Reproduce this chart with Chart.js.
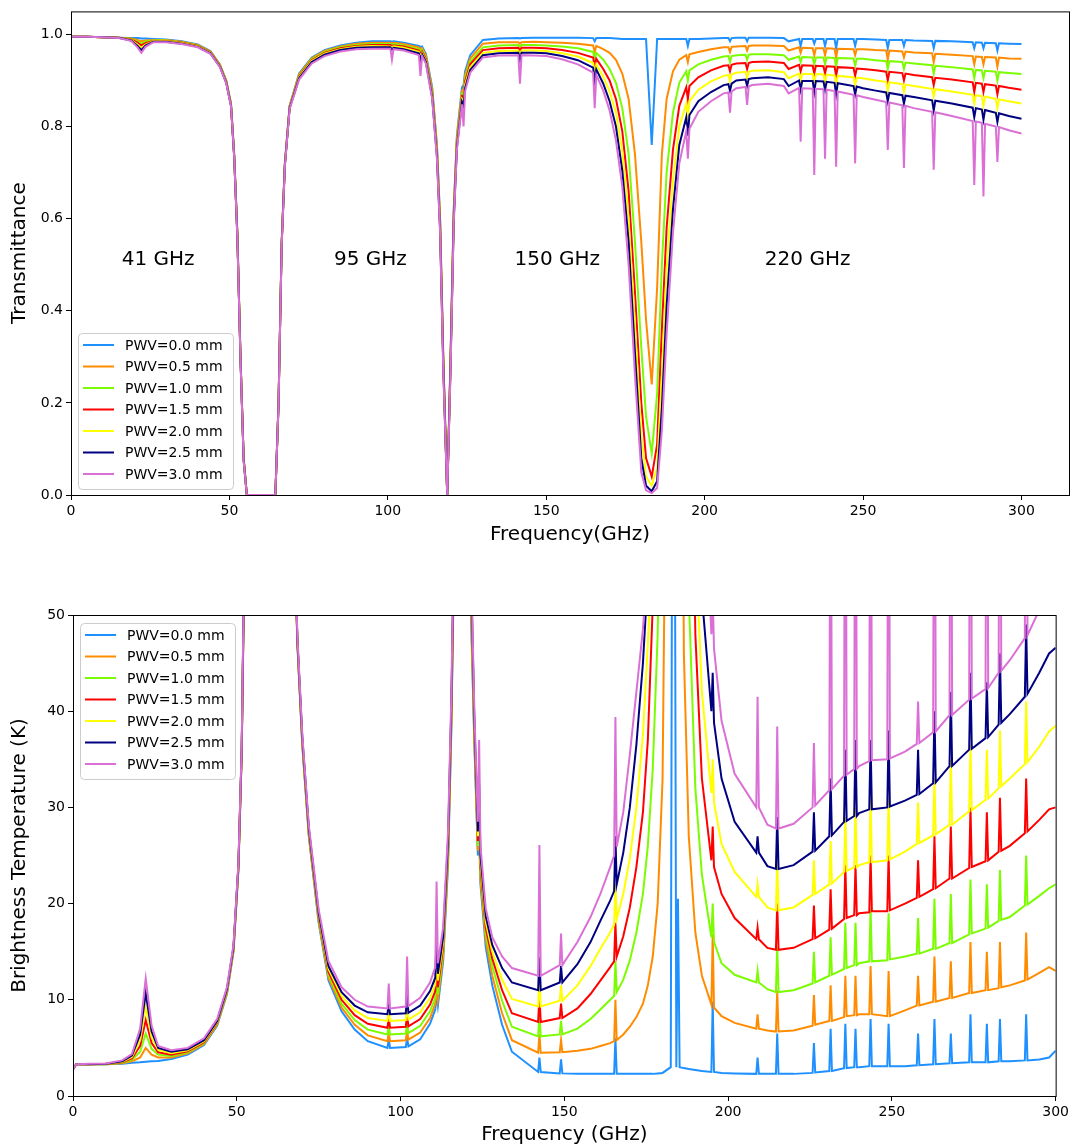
<!DOCTYPE html>
<html>
<head>
<meta charset="utf-8">
<script src="https://cdn.jsdelivr.net/npm/chart.js@4.4.0/dist/chart.umd.min.js"></script>
<style>
  body { margin: 0; background: #fff; }
  canvas { position: absolute; left: 0; }
  #topChart { top: 0; }
  #bottomChart { top: 600px; }
</style>
</head>
<body>
<canvas id="topChart" width="1072" height="550"></canvas>
<canvas id="bottomChart" width="1072" height="548"></canvas>
<script>
// series labels
const pwvLabels = ['PWV=0.0 mm', 'PWV=0.5 mm', 'PWV=1.0 mm', 'PWV=1.5 mm', 'PWV=2.0 mm', 'PWV=2.5 mm', 'PWV=3.0 mm'];
const bandLabels = ['41 GHz', '95 GHz', '150 GHz', '220 GHz'];

// tick labels
const topXTicks = [0, 50, 100, 150, 200, 250, 300];
const topYTicks = [0, 0.2, 0.4, 0.6, 0.8, 1.0];
const botXTicks = [0, 50, 100, 150, 200, 250, 300];
const botYTicks = [0, 10, 20, 30, 40, 50];

// ---- transmittance (top) ----
const freqTop = [0,5,10,15,19,21,22.2,23.5,26,30,
  35,40,44,47,49,50.5,51.5,52.5,53.5,54.5,
  55.5,64.5,65.5,66.5,67.5,69,72,76,80,85,
  90,95,100.8,101.3,101.8,105,109.8,110.3,110.8,112,
  114,115.5,116.5,117.5,118.75,119.8,120.8,121.8,123.4,123.9,
  124.4,126,130,135,141.2,141.7,142.2,146,150,155,
  160,164.8,165.3,165.8,168,170,172,174,176,178,
  180,181.5,183.3,185,186.5,188,190,192,194.2,194.7,
  195.2,198,202,206,207.5,208,208.5,210,212.9,213.4,
  213.9,215,220,225,226.5,229.8,230.3,230.8,234.1,234.6,
  235.1,237.5,238,238.5,241,241.5,242,247,247.5,248,
  250,254,257.3,257.8,258.3,262.4,262.9,263.4,266,271.8,
  272.3,272.8,278,284.6,285.1,285.6,287.5,288,288.5,291.9,
  292.4,292.9,296,300];

const trans00 = [.995,.995,.994,.993,.992,.992,.991,.991,.990,.989,
  .985,.978,.964,.935,.900,.850,.740,.570,.300,.080,
  0,0,.200,.550,.720,.845,.915,.950,.966,.976,
  .982,.985,.985,.984,.985,.982,.975,.973,.974,.958,
  .885,.760,.600,.300,0,.300,.620,.780,.885,.890,
  .920,.955,.988,.991,.992,.991,.992,.993,.993,.993,
  .993,.992,.985,.992,.992,.992,.991,.990,.990,.990,
  .990,.990,.760,.990,.990,.990,.990,.990,.990,.975,
  .990,.990,.991,.992,.992,.985,.992,.993,.993,.985,
  .993,.993,.993,.992,.985,.990,.975,.990,.990,.980,
  .990,.990,.975,.990,.990,.970,.990,.990,.975,.990,
  .990,.989,.988,.970,.988,.988,.975,.988,.987,.986,
  .970,.986,.985,.983,.970,.983,.982,.970,.982,.981,
  .965,.981,.980,.979];
const trans05 = [.995,.995,.994,.993,.991,.988,.985,.987,.988,.988,
  .984,.977,.963,.934,.899,.849,.739,.569,.299,.079,
  0,0,.199,.549,.719,.844,.913,.948,.964,.974,
  .980,.982,.982,.981,.982,.979,.972,.968,.970,.954,
  .880,.755,.595,.300,0,.300,.615,.775,.878,.880,
  .912,.948,.980,.983,.983,.980,.983,.984,.983,.982,
  .980,.976,.962,.975,.968,.960,.945,.915,.860,.740,
  .550,.380,.240,.450,.740,.860,.920,.945,.955,.940,
  .957,.962,.968,.972,.972,.962,.973,.974,.975,.965,
  .975,.976,.976,.975,.965,.972,.960,.971,.970,.955,
  .970,.970,.955,.970,.969,.950,.969,.968,.955,.968,
  .968,.966,.965,.945,.965,.963,.950,.963,.961,.959,
  .940,.958,.956,.953,.935,.952,.951,.935,.951,.950,
  .930,.950,.948,.947];
const trans10 = [.995,.995,.994,.993,.990,.985,.980,.984,.987,.987,
  .983,.976,.962,.933,.898,.848,.738,.568,.298,.078,
  0,0,.198,.548,.718,.843,.911,.946,.962,.972,
  .977,.979,.979,.978,.979,.976,.968,.962,.967,.950,
  .876,.750,.590,.290,0,.290,.610,.770,.872,.872,
  .905,.941,.972,.976,.977,.972,.977,.977,.976,.974,
  .970,.962,.945,.960,.945,.925,.895,.840,.740,.550,
  .320,.170,.090,.220,.500,.700,.830,.895,.920,.900,
  .922,.935,.945,.952,.953,.940,.953,.955,.956,.945,
  .956,.957,.957,.955,.945,.952,.940,.951,.950,.935,
  .950,.950,.935,.950,.949,.930,.949,.948,.932,.947,
  .947,.944,.942,.925,.942,.940,.925,.939,.937,.933,
  .915,.932,.929,.924,.905,.923,.922,.905,.921,.919,
  .900,.918,.916,.914];
const trans15 = [.995,.995,.994,.993,.989,.982,.976,.981,.986,.986,
  .982,.975,.961,.932,.897,.847,.737,.566,.297,.077,
  0,0,.197,.547,.717,.842,.909,.944,.960,.970,
  .975,.977,.977,.975,.976,.974,.965,.957,.963,.947,
  .872,.745,.585,.290,0,.290,.605,.765,.866,.864,
  .898,.935,.966,.970,.971,.964,.971,.971,.970,.966,
  .960,.950,.929,.947,.925,.900,.860,.790,.660,.440,
  .200,.080,.040,.110,.360,.580,.750,.845,.885,.860,
  .888,.907,.922,.932,.933,.920,.934,.937,.938,.925,
  .938,.940,.941,.938,.925,.934,.920,.933,.932,.915,
  .932,.931,.915,.931,.930,.910,.929,.927,.910,.926,
  .925,.922,.919,.900,.919,.916,.900,.915,.912,.907,
  .890,.906,.902,.896,.875,.895,.893,.875,.892,.889,
  .870,.888,.884,.880];
const trans20 = [.995,.995,.994,.993,.988,.978,.971,.978,.985,.985,
  .981,.974,.960,.931,.896,.846,.736,.565,.296,.076,
  0,0,.196,.546,.716,.841,.907,.942,.958,.968,
  .973,.975,.974,.971,.974,.971,.962,.951,.960,.944,
  .868,.740,.580,.280,0,.280,.600,.760,.860,.855,
  .891,.929,.960,.964,.965,.955,.965,.965,.964,.959,
  .952,.938,.915,.935,.908,.876,.830,.745,.600,.370,
  .130,.040,.020,.060,.260,.490,.680,.800,.850,.820,
  .855,.880,.898,.910,.912,.898,.913,.917,.919,.905,
  .919,.921,.922,.918,.905,.915,.900,.914,.914,.895,
  .914,.913,.895,.913,.911,.890,.910,.907,.890,.906,
  .905,.900,.897,.878,.896,.892,.875,.891,.888,.882,
  .865,.881,.876,.869,.850,.868,.866,.845,.865,.860,
  .840,.859,.855,.850];
const trans25 = [.995,.995,.994,.993,.987,.975,.966,.976,.984,.984,
  .980,.973,.959,.930,.895,.845,.735,.563,.295,.075,
  0,0,.195,.545,.715,.840,.905,.940,.956,.966,
  .971,.972,.972,.967,.971,.968,.959,.945,.957,.941,
  .864,.735,.575,.280,0,.280,.595,.755,.854,.845,
  .884,.923,.955,.959,.960,.945,.960,.960,.959,.953,
  .944,.928,.900,.924,.893,.855,.800,.705,.550,.310,
  .080,.020,.008,.030,.190,.410,.620,.760,.820,.780,
  .825,.855,.875,.890,.892,.878,.893,.900,.902,.888,
  .903,.905,.907,.903,.888,.900,.880,.899,.899,.875,
  .899,.898,.880,.897,.895,.870,.894,.888,.870,.887,
  .883,.878,.874,.855,.873,.868,.850,.867,.864,.857,
  .835,.856,.850,.841,.820,.840,.837,.815,.836,.830,
  .810,.829,.823,.817];
const trans30 = [.995,.995,.994,.992,.986,.972,.960,.973,.983,.983,
  .979,.972,.958,.929,.894,.844,.734,.560,.293,.073,
  0,0,.193,.543,.713,.838,.902,.937,.953,.963,
  .968,.969,.969,.945,.968,.965,.955,.910,.953,.937,
  .860,.730,.570,.270,0,.270,.590,.750,.848,.800,
  .877,.917,.950,.954,.955,.893,.955,.954,.953,.946,
  .935,.917,.840,.912,.878,.835,.770,.670,.500,.260,
  .050,.010,.004,.015,.140,.350,.570,.720,.790,.730,
  .795,.832,.855,.872,.874,.830,.876,.883,.886,.847,
  .887,.890,.893,.888,.872,.884,.767,.883,.882,.695,
  .882,.881,.730,.880,.877,.713,.876,.869,.720,.868,
  .864,.858,.853,.749,.852,.846,.710,.845,.840,.832,
  .706,.831,.823,.812,.673,.811,.808,.648,.806,.800,
  .723,.799,.792,.785];

// ---- brightness temperature (bottom) ----
const freqBot = [0,1,5,10,15,18,20.5,22.2,24,26,
  30,35,40,44,47,49,50.5,51.5,52.5,60,
  67.5,68.5,70,72,75,78,82,86,90,96,
  96.4,96.8,101.6,102,102.4,106,109,110.6,111,111.4,
  113,114.5,115.5,116.3,119,121.5,122.5,123.6,124,124.4,
  126,128,131,134,142,142.4,142.8,148.6,149,149.4,
  154,158,161,164,165.2,165.6,166,168,170,172,
  174,175.5,177,178.5,180,182.5,183.3,184.2,184.7,185.2,
  186.5,188,190,192,194.9,195.3,195.7,198,202,208.6,
  209,209.4,212,214.6,215,215.4,220,225.8,226.2,226.6,
  230.9,231.3,231.7,235.4,235.8,236.2,238.5,238.9,239.3,240,
  243.1,243.5,243.9,248.6,249,249.4,254,257.6,258,258.4,
  262.6,263,263.4,267.6,268,268.4,273.6,274,274.4,278.6,
  279,279.4,282.6,283,283.4,286,290.6,291,291.4,295,
  298,300];

const tb00 = [2.8,3.3,3.3,3.3,3.35,3.45,3.5,3.55,3.6,3.65,
  3.85,4.3,5.3,7.3,10.6,15.0,23.5,35.5,60,280,
  60,47,36.5,27,18.0,12.0,8.8,6.9,5.7,5.0,
  5.9,5.0,5.1,6.0,5.15,5.9,7.5,9.0,10.5,9.4,
  14.0,24,38,55,300,50,37,25,27,22,
  15.5,11.5,7.4,4.6,2.5,4.0,2.5,2.35,3.8,2.35,
  2.3,2.3,2.3,2.3,2.3,6.0,2.3,2.3,2.3,2.3,
  2.3,2.3,2.3,2.35,2.4,3.0,120,3.0,20.5,3.0,
  2.9,2.8,2.7,2.6,2.5,9.8,2.5,2.4,2.35,2.3,
  4.0,2.3,2.3,2.3,6.5,2.3,2.3,2.4,5.5,2.45,
  2.6,7,2.6,2.9,7.5,2.9,3.0,7.0,3.0,3.0,
  3.1,8.0,3.1,3.1,7.5,3.1,3.1,3.2,6.5,3.2,
  3.3,8.0,3.3,3.4,6.5,3.4,3.5,8.5,3.5,3.5,
  7.5,3.5,3.6,8.0,3.6,3.6,3.7,8.5,3.7,3.8,
  4.0,4.7];
const tb05 = [2.8,3.3,3.3,3.3,3.4,3.6,4.0,5.0,4.3,4.0,
  4.0,4.45,5.4,7.4,10.7,15.1,23.6,35.6,60,280,
  60,47.1,36.6,27.1,18.2,12.3,9.2,7.4,6.3,5.7,
  6.6,5.7,5.8,6.8,5.85,6.6,8.1,9.6,11.5,10.0,
  14.5,24.5,38.5,55.5,300,51,37.5,25.5,28,22.5,
  16.2,12.5,8.6,5.8,4.5,6.4,4.5,4.55,5.8,4.55,
  4.7,4.9,5.2,5.5,5.7,10,5.8,6.4,7.2,8.2,
  9.6,11.5,14.5,20,33,120,160,160,150,120,
  46,27,17,12.5,9.5,16.8,9.2,8.3,7.6,7.0,
  8.5,7.0,6.8,6.7,11,6.7,6.8,7.3,10.5,7.4,
  7.8,11.5,7.8,8.2,12.5,8.3,8.4,12.5,8.4,8.5,
  8.5,13.5,8.5,8.3,13,8.3,8.9,9.4,12.5,9.4,
  9.8,14.5,9.8,10.2,14,10.2,10.7,16,10.7,11.0,
  15,11.0,11.2,16,11.3,11.5,12.0,17,12.1,12.8,
  13.4,13.0];
const tb10 = [2.8,3.3,3.3,3.3,3.45,3.75,4.6,6.5,4.9,4.3,
  4.15,4.55,5.5,7.5,10.8,15.2,23.7,35.7,60.5,280,
  60,47.2,36.7,27.2,18.4,12.6,9.6,7.9,6.9,6.4,
  7.3,6.4,6.5,7.6,6.55,7.3,8.8,10.2,12.5,10.6,
  15.0,25,39,56,300,52,38,26,29,23.2,
  16.9,13.5,9.9,7.2,6.2,8.4,6.2,6.4,7.8,6.4,
  7.0,8.0,9.0,10.0,10.4,14,10.8,12.1,14.1,17.0,
  21.0,26,34,48,75,200,280,280,270,250,
  120,52,32,23,16.5,20,16,13.8,12.6,11.8,
  13.0,11.8,11.1,10.8,15.5,10.8,11.0,11.7,15,11.8,
  12.5,16.5,12.6,13.2,18,13.3,13.6,18,13.6,13.8,
  14.0,19.5,14.0,14.1,19,14.2,14.5,14.8,18.5,14.8,
  15.3,20.5,15.3,15.9,21,15.9,16.8,22.5,16.9,17.4,
  22,17.5,18.2,23.5,18.3,18.6,19.8,25,19.9,20.8,
  21.6,22.0];
const tb15 = [2.8,3.3,3.3,3.32,3.5,3.9,5.2,7.9,5.5,4.55,
  4.3,4.65,5.6,7.6,10.9,15.3,23.8,35.8,60.5,280,
  60,47.3,36.9,27.4,18.6,12.9,10.0,8.4,7.5,7.1,
  8.1,7.1,7.2,8.5,7.25,8.0,9.5,10.9,13.5,11.3,
  15.5,25.5,39.5,56.5,300,53,38.5,26.5,30,23.8,
  17.5,14.3,11.0,8.6,7.7,10.3,7.7,8.1,9.6,8.1,
  9.1,10.6,12.0,13.4,14.0,18,14.5,16.6,19.6,23.8,
  29.5,37,51,70,110,240,280,280,280,280,
  200,90,48,33,24.5,28,23.8,21.0,18.5,16.3,
  17.5,16.3,15.4,15.2,20,15.2,15.4,16.3,19.8,16.4,
  17.3,21.5,17.4,18.4,24,18.5,18.8,24,18.8,19.0,
  19.1,25,19.2,19.2,25,19.3,20.0,20.6,24.5,20.7,
  21.5,27,21.6,22.6,28,22.6,23.7,30,23.8,24.4,
  29.5,24.5,25.4,31,25.5,26.0,27.3,33,27.5,28.7,
  29.8,30.0];
const tb20 = [2.8,3.3,3.3,3.34,3.55,4.05,5.8,9.3,6.1,4.8,
  4.45,4.75,5.7,7.7,11.0,15.4,23.9,35.9,61,280,
  60,47.4,37.1,27.6,18.8,13.2,10.4,8.9,8.1,7.8,
  8.9,7.8,7.9,9.5,7.95,8.7,10.2,11.6,14.8,12.0,
  16.0,26,40,57,300,54,39,27,31,24.4,
  18.1,15.0,12.1,10.1,9.3,12.2,9.3,9.9,11.5,9.9,
  11.5,13.5,15.3,17.0,17.8,22,18.4,21.0,24.7,30.0,
  37.5,47,58,80,130,260,280,280,280,280,
  250,130,58,42,31.5,35,30.5,26.2,23.3,20.7,
  22.0,20.7,19.6,19.3,24.5,19.3,19.6,20.9,24.5,21.0,
  22.0,26.5,22.1,23.3,29,23.4,23.8,30,23.8,24.0,
  24.3,31,24.3,24.5,31,24.6,25.4,26.2,30.5,26.3,
  27.1,33,27.2,28.2,35,28.2,29.6,36.5,29.7,30.8,
  36,30.9,32.0,38,32.2,33.0,34.5,41,34.7,36.3,
  37.9,38.5];
const tb25 = [2.8,3.3,3.3,3.36,3.6,4.2,6.4,10.7,6.7,5.0,
  4.6,4.85,5.8,7.8,11.1,15.5,24.0,36.0,61,280,
  60,47.5,37.3,27.8,19.0,13.5,10.8,9.4,8.7,8.5,
  9.8,8.5,8.6,10.5,8.65,9.4,10.9,12.3,16.5,12.7,
  16.5,26.5,40.5,57.5,300,55,39.5,27.5,32.5,25,
  18.7,15.7,13.3,11.8,11.0,14.4,11.0,11.8,13.5,11.8,
  13.7,16.0,18.2,20.3,21.3,27,22.0,25.3,30.0,36.5,
  45,54,65,90,150,270,280,280,280,280,
  270,170,85,52,40,44,38.8,33.0,28.5,25.3,
  27.0,25.3,23.9,23.6,29,23.6,24.0,25.4,29.5,25.5,
  27.0,33,27.1,28.5,36,28.6,29.1,37,29.1,29.4,
  29.8,37,29.8,30.0,38,30.1,30.7,31.3,36,31.4,
  32.5,40,32.6,34.3,42,34.3,36.0,44,36.1,37.2,
  43,37.3,38.6,46,38.8,39.7,41.5,49,41.8,44.0,
  46.0,46.6];
const tb30 = [2.8,3.3,3.35,3.38,3.7,4.35,7.0,12.2,7.3,5.2,
  4.75,5.0,6.0,8.0,11.3,15.7,24.2,36.3,62,280,
  60,47.8,37.6,28.1,19.4,14.0,11.3,10.0,9.3,9.1,
  11.7,9.1,9.3,14.5,9.35,10.2,11.8,13.4,22.3,13.8,
  17.5,27.5,41.5,58.5,300,56,40.5,28.5,37,26,
  19.5,16.5,14.5,13.3,12.5,26.1,12.5,13.6,16.9,13.6,
  16.0,18.6,21.0,23.8,25.0,39.4,25.9,29.5,35.5,42,
  48.5,56,70,100,180,280,280,280,280,280,
  280,220,110,70,48,52,46.5,39.0,33.5,30.0,
  41.5,30.0,28.2,27.8,38.4,27.8,28.3,30.0,36.7,30.2,
  31.8,80,31.9,33.3,90,33.4,34.0,90,34.0,34.3,
  34.8,90,34.9,35.0,90,35.1,35.8,36.6,41,36.7,
  37.8,90,37.9,39.6,90,39.6,41.2,90,41.3,42.3,
  90,42.4,44.0,90,44.2,45.3,47.6,90,47.9,50.5,
  53,54];

// ---- styling ----
const FONT = "'DejaVu Sans', sans-serif";
const lineColors = ['#1e90ff', '#ff8c00', '#7cfc00', '#ff0000', '#ffff00', '#000080', '#da70d6'];

function makeSets(freq, series) {
    return series.map((vals, i) => ({
        label: pwvLabels[i],
        data: vals.map((v, k) => ({ x: freq[k], y: v })),
        borderColor: lineColors[i],
        backgroundColor: lineColors[i],
        borderWidth: 2,
        pointRadius: 0,
        tension: 0,
        fill: false,
        order: series.length - 1 - i   // later series drawn on top
    }));
}

// box frame, text labels and legend drawn on the canvas
const frameAndLegend = {
    id: 'frameAndLegend',
    afterDraw(chart, args, opts) {
        const { ctx, chartArea: a } = chart;
        ctx.save();
        ctx.strokeStyle = '#000';
        ctx.lineWidth = 1;
        ctx.strokeRect(a.left + 0.5, a.top + 0.5, a.right - a.left, a.bottom - a.top);

        if (opts.bands) {
            const xs = chart.scales.x, ys = chart.scales.y;
            ctx.fillStyle = '#000';
            ctx.font = '20px ' + FONT;
            ctx.textAlign = 'left';
            ctx.textBaseline = 'alphabetic';
            opts.bands.forEach((t, i) => {
                ctx.fillText(t, xs.getPixelForValue(opts.bandAt[i]), ys.getPixelForValue(0.5));
            });
        }

        const w = 155, h = 156, rowH = 21.5;
        const x0 = a.left + 7;
        const y0 = opts.corner === 'lower' ? a.bottom - 6 - h : a.top + 8;
        ctx.beginPath();
        ctx.roundRect(x0 + 0.5, y0 + 0.5, w, h, 4);
        ctx.fillStyle = 'rgba(255,255,255,0.8)';
        ctx.fill();
        ctx.strokeStyle = '#cccccc';
        ctx.stroke();

        ctx.font = '14px ' + FONT;
        ctx.textAlign = 'left';
        ctx.textBaseline = 'middle';
        pwvLabels.forEach((lab, i) => {
            const cy = y0 + 12 + i * rowH;
            ctx.strokeStyle = lineColors[i];
            ctx.lineWidth = 2;
            ctx.beginPath();
            ctx.moveTo(x0 + 5, cy);
            ctx.lineTo(x0 + 36, cy);
            ctx.stroke();
            ctx.fillStyle = '#000';
            ctx.fillText(lab, x0 + 47, cy + 1);
        });
        ctx.restore();
    }
};

function axis(opts) {
    return {
        type: 'linear',
        min: opts.min,
        max: opts.max,
        afterBuildTicks: s => { s.ticks = opts.ticks.map(v => ({ value: v })); },
        afterFit: s => { if (opts.h) s.height = opts.h; if (opts.w) s.width = opts.w; },
        ticks: {
            color: '#000', font: { family: FONT, size: 14 }, padding: 3,
            autoSkip: false, maxRotation: 0,
            callback: opts.fmt
        },
        grid: { display: true, drawOnChartArea: false, drawTicks: true, tickLength: 5, color: '#000' },
        border: { display: false },
        title: {
            display: true, text: opts.title, color: '#000',
            font: { family: FONT, size: 20 }, padding: opts.tpad
        }
    };
}

new Chart(document.getElementById('topChart'), {
    type: 'line',
    data: { datasets: makeSets(freqTop, [trans00, trans05, trans10, trans15, trans20, trans25, trans30]) },
    options: {
        responsive: false,
        animation: false,
        layout: { padding: { top: 10, right: 3, left: 0, bottom: 0 } },
        scales: {
            x: axis({ min: 0, max: 315, ticks: topXTicks, h: 55, title: 'Frequency(GHz)',
                      tpad: { top: 0, bottom: 3 }, fmt: v => String(v) }),
            y: axis({ min: 0, max: 1.05, ticks: topYTicks, w: 71, title: 'Transmittance',
                      tpad: { top: 8, bottom: 0 }, fmt: v => v.toFixed(1) })
        },
        plugins: {
            legend: { display: false },
            tooltip: { enabled: false },
            frameAndLegend: { corner: 'lower', bands: bandLabels, bandAt: [16, 83, 140, 219] }
        }
    },
    plugins: [frameAndLegend]
});

new Chart(document.getElementById('bottomChart'), {
    type: 'line',
    data: { datasets: makeSets(freqBot, [tb00, tb05, tb10, tb15, tb20, tb25, tb30]) },
    options: {
        responsive: false,
        animation: false,
        layout: { padding: { top: 15, right: 12, left: 0, bottom: 0 } },
        scales: {
            x: axis({ min: 0, max: 300, ticks: botXTicks, h: 52, title: 'Frequency (GHz)',
                      tpad: { top: 0, bottom: 1 }, fmt: v => String(v) }),
            y: axis({ min: 0, max: 50, ticks: botYTicks, w: 73, title: 'Brightness Temperature (K)',
                      tpad: { top: 8, bottom: 0 }, fmt: v => String(v) })
        },
        plugins: {
            legend: { display: false },
            tooltip: { enabled: false },
            frameAndLegend: { corner: 'upper' }
        }
    },
    plugins: [frameAndLegend]
});
</script>
</body>
</html>
